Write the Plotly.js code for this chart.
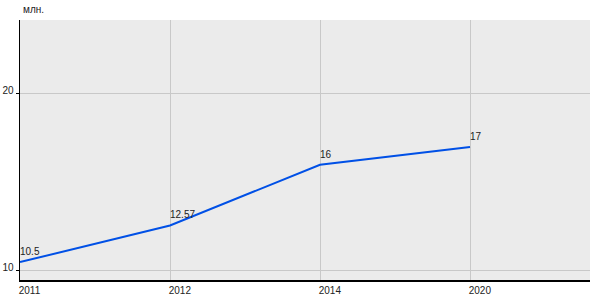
<!DOCTYPE html>
<html>
<head>
<meta charset="utf-8">
<script src="https://cdn.plot.ly/plotly-3.0.1.min.js"></script>
<style>html,body{margin:0;padding:0;background:#fff}#chart{width:600px;height:300px}</style>
</head>
<body>
<div id="chart"></div>
<script>
var years = ["2011", "2012", "2014", "2020"];
var values = [10.5, 12.57, 16, 17];
var valueLabels = ["10.5", "12.57", "16", "17"];
var yTicks = [10, 20];
var unitLabel = "млн.";

var trace = {
  type: "scatter",
  mode: "lines",
  x: years,
  y: values,
  line: {color: "#0050e6", width: 2},
  hoverinfo: "skip"
};

var labelAnnotations = years.map(function (yr, i) {
  return {
    x: i, y: values[i], xref: "x", yref: "y",
    text: valueLabels[i], showarrow: false,
    xanchor: "left", yanchor: "bottom", xshift: -2, yshift: 3,
    font: {size: 10, color: "#222"}
  };
});

var layout = {
  width: 600, height: 300,
  margin: {l: 20, r: 10, t: 20, b: 20, pad: 0},
  paper_bgcolor: "#ffffff",
  plot_bgcolor: "#ebebeb",
  showlegend: false,
  font: {family: "Liberation Sans, Arial, sans-serif", size: 10, color: "#222"},
  xaxis: {
    type: "category",
    range: [0, 3.8],
    showgrid: true, gridcolor: "#c8c8c8", gridwidth: 1,
    showline: true, linecolor: "#000", linewidth: 1.5,
    ticks: "", ticklabelposition: "outside right",
    ticklabelshift: -2,
    tickfont: {size: 10, color: "#222"},
    zeroline: false, fixedrange: true
  },
  yaxis: {
    range: [9.49, 24.18],
    tickvals: yTicks, ticktext: yTicks.map(String),
    showgrid: true, gridcolor: "#c8c8c8", gridwidth: 1,
    showline: true, linecolor: "#000", linewidth: 1.5,
    ticks: "outside", ticklen: 3, tickcolor: "#000",
    ticklabelshift: -3,
    tickfont: {size: 10, color: "#222"},
    zeroline: false, fixedrange: true
  },
  annotations: [{
    text: unitLabel, xref: "paper", yref: "paper",
    x: 0, y: 1, xanchor: "left", yanchor: "bottom", yshift: 3, xshift: 1,
    showarrow: false, font: {size: 10, color: "#222"}
  }].concat(labelAnnotations)
};

Plotly.newPlot("chart", [trace], layout, {displayModeBar: false, staticPlot: true});
</script>
</body>
</html>
